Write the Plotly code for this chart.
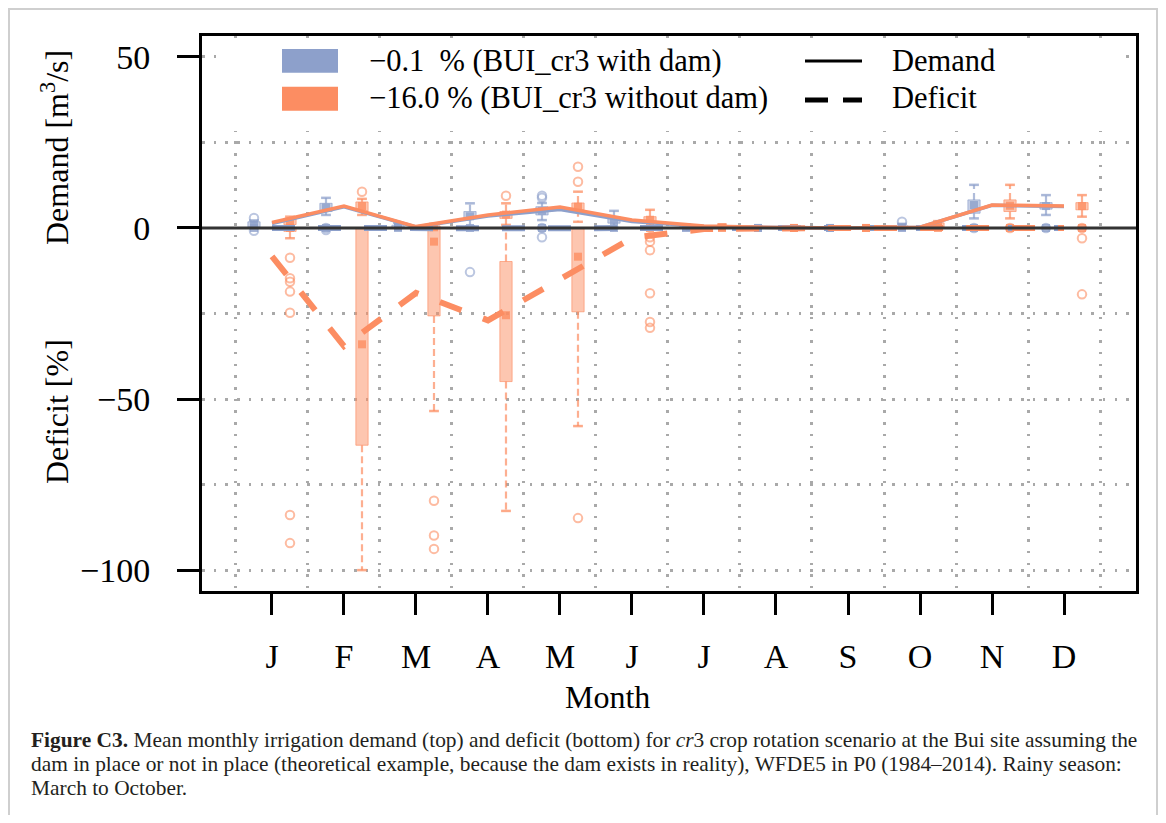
import plotly.graph_objects as go

months = list(range(1, 13))
month_labels = ["J", "F", "M", "A", "M", "J", "J", "A", "S", "O", "N", "D"]

# ---- Demand [m3/s] box statistics, BUI_cr3 with dam (blue)
bd_lo  = [0.0, 3.8, 0.0, 0.5, 2.3, 0.0, 0.0, 0.0, 0.0, 0.0, 2.8, 3.8]
bd_q1  = [0.3, 4.8, 0.0, 2.8, 3.8, 1.4, 0.0, 0.0, 0.0, 0.0, 4.3, 5.5]
bd_med = [1.0, 6.0, 0.3, 3.4, 5.0, 2.3, 0.2, 0.0, 0.0, 0.2, 6.7, 6.4]
bd_q3  = [1.8, 7.2, 0.8, 4.8, 6.2, 3.3, 0.6, 0.2, 0.1, 0.6, 8.2, 7.4]
bd_hi  = [2.2, 8.8, 1.5, 7.2, 7.3, 5.0, 1.0, 0.4, 0.2, 1.2, 12.6, 9.6]
bd_out = [[2.9], [0.0], [], [], [9.4, 8.8, 0.0], [], [], [], [], [1.8], [0.0], [0.0]]

# ---- Demand, BUI_cr3 without dam (orange)
od_lo  = [0.0, 3.8, 0.0, 0.9, 1.8, 0.0, 0.0, 0.0, 0.0, 0.0, 2.8, 3.3]
od_q1  = [1.0, 5.0, 0.0, 2.8, 5.3, 1.4, 0.0, 0.0, 0.0, 0.3, 4.8, 5.3]
od_med = [1.8, 6.4, 0.2, 3.9, 6.2, 2.4, 0.2, 0.0, 0.0, 0.8, 6.5, 6.4]
od_q3  = [2.8, 7.6, 0.6, 4.8, 7.3, 3.3, 0.6, 0.2, 0.1, 1.5, 8.2, 7.4]
od_hi  = [3.3, 8.5, 1.2, 7.2, 10.6, 5.3, 1.0, 0.4, 0.2, 2.0, 12.6, 9.6]
od_out = [[], [10.6], [], [9.4], [13.5, 17.9], [], [], [], [], [], [0.0], [0.0]]

# ---- Deficit [%] box statistics, with dam (blue)
bf_lo  = [0.0] * 12
bf_q1  = [0.0] * 12
bf_med = [0.0] * 12
bf_q3  = [0.0] * 12
bf_hi  = [0.0] * 12
bf_out = [[-0.8], [-0.6], [], [-12.9], [-2.7], [], [], [], [], [], [], []]

# ---- Deficit [%], without dam (orange)
of_lo  = [-3.0, -100.0, -53.5, -82.7, -57.9, 0.0, 0.0, 0.0, 0.0, 0.0, 0.0, 0.0]
of_q1  = [-1.0, -63.5, -25.7, -44.9, -24.5, 0.0, 0.0, 0.0, 0.0, 0.0, 0.0, 0.0]
of_med = [0.0, -34.0, -4.0, -25.5, -8.4, 0.0, 0.0, 0.0, 0.0, 0.0, 0.0, 0.0]
of_q3  = [0.0, 0.0, 0.0, -9.8, 0.0, 0.0, 0.0, 0.0, 0.0, 0.0, 0.0, 0.0]
of_hi  = [0.0, 0.0, 0.0, 0.0, 0.0, 0.0, 0.0, 0.0, 0.0, 0.0, 0.0, 0.0]
of_out = [[-8.7, -14.7, -15.7, -18.6, -24.8, -83.9, -92.1], [], [-79.7, -89.9, -93.8], [],
          [-84.8], [-2.7, -4.0, -6.5, -19.1, -27.5, -29.2], [], [], [], [], [], [-3.0, -19.4]]

# ---- Mean lines
blue_demand_mean = [1.3, 6.2, 0.3, 3.5, 5.4, 1.9, 0.4, 0.1, 0.0, 0.2, 6.6, 6.3]
orange_demand_mean = [1.6, 6.4, 0.4, 3.8, 6.1, 2.3, 0.6, 0.1, 0.0, 0.2, 6.7, 6.4]
blue_deficit_mean = [0.0, -0.1, 0.0, -0.4, -0.1, 0.0, 0.0, 0.0, 0.0, 0.0, 0.0, 0.0]
orange_deficit_mean = [-8.3, -34.5, -19.0, -27.0, -15.0, -2.9, -0.3, 0.0, 0.0, 0.0, 0.0, 0.0]

legend_labels = ["\u22120.1\u00a0\u00a0% (BUI_cr3 with dam)", "\u221216.0 % (BUI_cr3 without dam)"]
caption_lines = [
    "<b>Figure C3.</b> Mean monthly irrigation demand (top) and deficit (bottom) for <i>cr</i>3 crop rotation scenario at the Bui site assuming the",
    "dam in place or not in place (theoretical example, because the dam exists in reality), WFDE5 in P0 (1984\u20132014). Rainy season:",
    "March to October.",
]

BLUE = (141, 160, 203)
ORANGE = (252, 141, 98)
SERIF = "Liberation Serif, Times New Roman, serif"


def rgba(c, a):
    return "rgba(%d,%d,%d,%.2f)" % (c[0], c[1], c[2], a)


fig = go.Figure()


def add_boxes(offset, lo, q1, med, q3, hi, outs, col):
    xs = [m + offset for m in months]
    fig.add_trace(go.Bar(x=xs, y=[b - a for a, b in zip(q1, q3)], base=q1, width=0.17,
                         marker=dict(color=rgba(col, 0.5), line=dict(color=rgba(col, 0.65), width=1)),
                         showlegend=False, hoverinfo="skip"))
    wx, wy, sx, sy = [], [], [], []
    for x, l, a, b, h in zip(xs, lo, q1, q3, hi):
        if h > b:
            wx += [x, x, None]; wy += [b, h, None]; sx.append(x); sy.append(h)
        if l < a:
            wx += [x, x, None]; wy += [a, l, None]; sx.append(x); sy.append(l)
    fig.add_trace(go.Scatter(x=wx, y=wy, mode="lines",
                             line=dict(color=rgba(col, 0.7), width=2.2, dash="7px,4px"),
                             showlegend=False, hoverinfo="skip"))
    fig.add_trace(go.Scatter(x=sx, y=sy, mode="markers",
                             marker=dict(symbol="line-ew", size=7, color=rgba(col, 0.75),
                                         line=dict(color=rgba(col, 0.75), width=2.5)),
                             showlegend=False, hoverinfo="skip"))
    fig.add_trace(go.Scatter(x=xs, y=med, mode="markers",
                             marker=dict(symbol="square", size=8, color=rgba(col, 0.8)),
                             showlegend=False, hoverinfo="skip"))
    ox, oy = [], []
    for x, o in zip(xs, outs):
        for v in o:
            ox.append(x); oy.append(v)
    fig.add_trace(go.Scatter(x=ox, y=oy, mode="markers",
                             marker=dict(symbol="circle-open", size=8.5, color=rgba(col, 0.6),
                                         line=dict(color=rgba(col, 0.6), width=2)),
                             showlegend=False, hoverinfo="skip"))


add_boxes(-0.25, bd_lo, bd_q1, bd_med, bd_q3, bd_hi, bd_out, BLUE)
add_boxes(-0.25, bf_lo, bf_q1, bf_med, bf_q3, bf_hi, bf_out, BLUE)
add_boxes(0.25, od_lo, od_q1, od_med, od_q3, od_hi, od_out, ORANGE)
add_boxes(0.25, of_lo, of_q1, of_med, of_q3, of_hi, of_out, ORANGE)

# mean lines
fig.add_trace(go.Scatter(x=months, y=blue_deficit_mean, mode="lines",
                         line=dict(color=rgba(BLUE, 1), width=6, dash="23px,23px"),
                         showlegend=False, hoverinfo="skip"))
fig.add_trace(go.Scatter(x=months, y=orange_deficit_mean, mode="lines",
                         line=dict(color=rgba(ORANGE, 1), width=6, dash="23px,23px"),
                         showlegend=False, hoverinfo="skip"))
fig.add_trace(go.Scatter(x=months, y=blue_demand_mean, mode="lines",
                         line=dict(color=rgba(BLUE, 1), width=3.5),
                         showlegend=False, hoverinfo="skip"))
fig.add_trace(go.Scatter(x=months, y=orange_demand_mean, mode="lines",
                         line=dict(color=rgba(ORANGE, 1), width=3.5),
                         showlegend=False, hoverinfo="skip"))

GRID = dict(showgrid=True, gridcolor="#a9a9a9", gridwidth=2.5, griddash="2.5px,9.2px", ticks="")

fig.update_xaxes(range=[0.028, 13.0], tickmode="array", tickvals=months, ticktext=month_labels,
                 showgrid=False, zeroline=False, showline=True, linecolor="black", linewidth=3,
                 mirror=True, ticks="outside", ticklen=21, tickwidth=3, tickcolor="black",
                 ticklabelstandoff=12,
                 tickfont=dict(family=SERIF, size=34, color="black"),
                 minor=dict(tickmode="array", tickvals=[m - 0.5 for m in months] + [12.5], **GRID))
fig.update_yaxes(range=[-106.1, 56.1], tickmode="array", tickvals=[-100, -50, 0, 50],
                 ticktext=["\u2212100", "\u221250", "0", "50"],
                 showgrid=False, zeroline=False, showline=True, linecolor="black", linewidth=3,
                 mirror=True, ticks="outside", ticklen=22, tickwidth=3, tickcolor="black",
                 ticklabelstandoff=20,
                 tickfont=dict(family=SERIF, size=34, color="black"),
                 minor=dict(tickmode="array", tickvals=[-100, -75, -50, -25, 25, 50], **GRID))

# The page body has an 8px margin; the figure is sized so the plot lands where the reference has it.
OFF = 8
W, H = 1150, 807
L, T = 202 - OFF, 36 - OFF
R = W - (1136 - OFF)
B = H - (591 - OFF)
PW, PH = 1136 - 202, 591 - 36


def px(x):
    return (x - 202) / PW


def py(y):
    return (591 - y) / PH


shapes = [
    # outer light frame of the figure page
    dict(type="rect", xref="paper", yref="paper", x0=px(9), x1=px(1157), y0=py(840), y1=py(9),
         line=dict(color="#cfcfcf", width=2), fillcolor="rgba(0,0,0,0)", layer="below"),
    # zero reference line
    dict(type="line", xref="paper", yref="y", x0=0, x1=1, y0=0, y1=0,
         line=dict(color="#333333", width=3), layer="above"),
    # legend background
    dict(type="rect", xref="paper", yref="paper", x0=px(220), x1=px(1122), y0=py(131), y1=py(38),
         line=dict(width=0), fillcolor="white", layer="above"),
    # legend swatches
    dict(type="rect", xref="paper", yref="paper", x0=px(282), x1=px(338), y0=py(72.7), y1=py(49),
         line=dict(width=0), fillcolor=rgba(BLUE, 1), layer="above"),
    dict(type="rect", xref="paper", yref="paper", x0=px(282), x1=px(338), y0=py(110.7), y1=py(86.7),
         line=dict(width=0), fillcolor=rgba(ORANGE, 1), layer="above"),
    dict(type="line", xref="paper", yref="paper", x0=px(805), x1=px(862), y0=py(61), y1=py(61),
         line=dict(color="black", width=3), layer="above"),
    dict(type="line", xref="paper", yref="paper", x0=px(805), x1=px(862), y0=py(100), y1=py(100),
         line=dict(color="black", width=5, dash="23px,15px"), layer="above"),
]

LEG = dict(family=SERIF, size=30.5, color="black")
ann = [
    dict(xref="paper", yref="paper", x=px(367), y=py(61), text=legend_labels[0], showarrow=False,
         xanchor="left", yanchor="middle", font=LEG),
    dict(xref="paper", yref="paper", x=px(367), y=py(98), text=legend_labels[1], showarrow=False,
         xanchor="left", yanchor="middle", font=LEG),
    dict(xref="paper", yref="paper", x=px(890), y=py(61), text="Demand", showarrow=False,
         xanchor="left", yanchor="middle", font=LEG),
    dict(xref="paper", yref="paper", x=px(890), y=py(98), text="Deficit", showarrow=False,
         xanchor="left", yanchor="middle", font=LEG),
    dict(xref="paper", yref="paper", x=px(55), y=py(148), text="Demand [m<sup>3</sup>/s]", showarrow=False,
         textangle=-90, xanchor="center", yanchor="middle", font=dict(family=SERIF, size=32, color="black")),
    dict(xref="paper", yref="paper", x=px(57), y=py(412), text="Deficit [%]", showarrow=False,
         textangle=-90, xanchor="center", yanchor="middle", font=dict(family=SERIF, size=32, color="black")),
    dict(xref="paper", yref="paper", x=px(607), y=py(697), text="Month", showarrow=False,
         xanchor="center", yanchor="middle", font=dict(family=SERIF, size=32, color="black")),
]
for i, (line, yc) in enumerate(zip(caption_lines, [740, 764, 788])):
    ann.append(dict(xref="paper", yref="paper", x=px(29), y=py(yc), text=line, showarrow=False,
                    xanchor="left", yanchor="middle", align="left",
                    font=dict(family=SERIF, size=21.4, color="#231f20")))

fig.update_layout(width=W, height=H, margin=dict(l=L, r=R, t=T, b=B, autoexpand=False),
                  paper_bgcolor="white", plot_bgcolor="white", barmode="overlay",
                  showlegend=False, shapes=shapes, annotations=ann,
                  font=dict(family=SERIF))

fig.write_html("out.html")
